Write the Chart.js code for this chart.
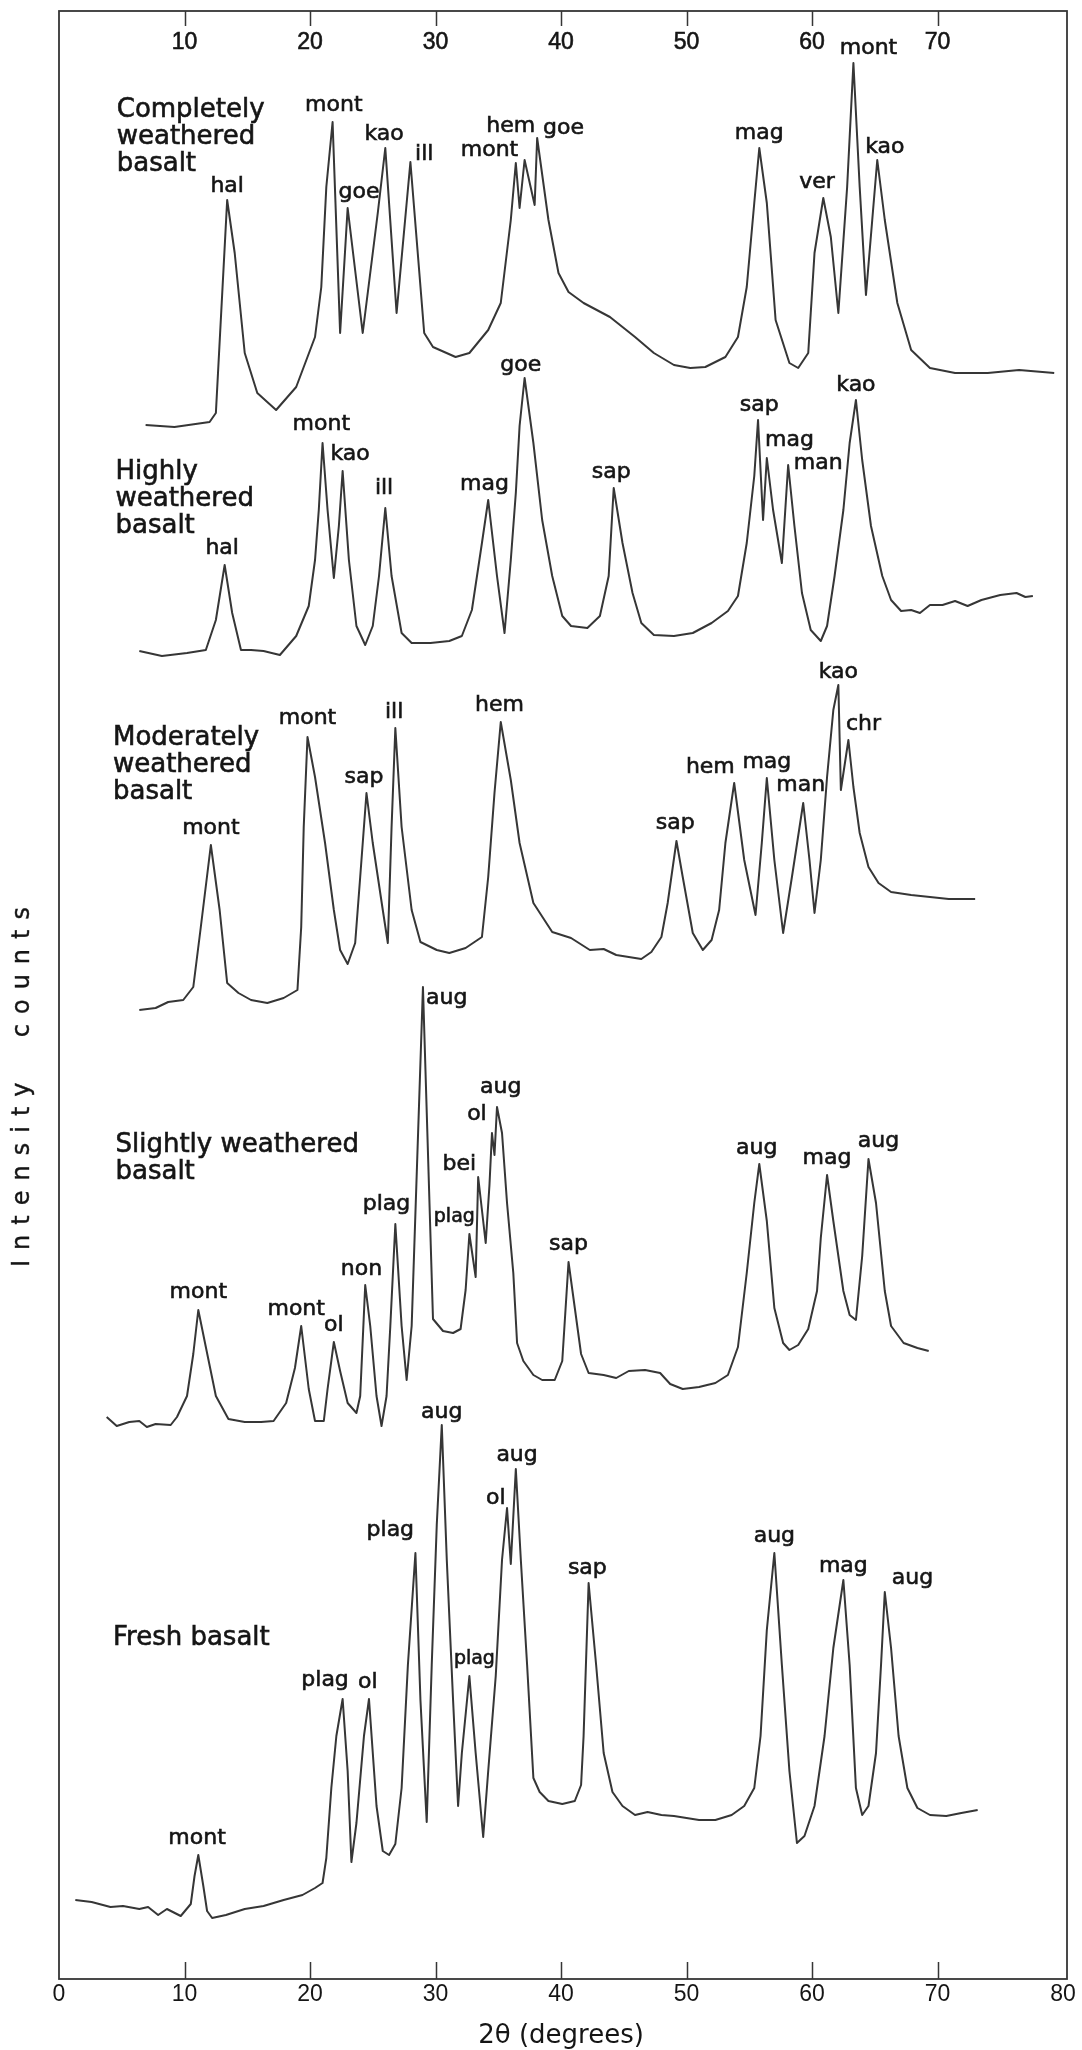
<!DOCTYPE html>
<html>
<head>
<meta charset="utf-8">
<title>XRD patterns of weathered basalt</title>
<script src="https://cdn.jsdelivr.net/npm/chart.js@4.4.1/dist/chart.umd.min.js"></script>
<style>
    html, body { margin: 0; padding: 0; background: #ffffff; }
    #wrap { width: 1082px; height: 2050px; }
</style>
</head>
<body>
<div id="wrap"><canvas id="xrdChart" width="1082" height="2050"></canvas></div>
<script>
// 2θ positions (degrees) and intensities above each trace's own baseline
const completelyTheta = [6.9, 9.2, 12.0, 12.5, 13.4, 14.0, 14.8, 15.8, 17.3, 18.9, 20.4, 20.9, 21.3, 21.8, 22.4, 23.0, 24.2, 25.4, 26.0, 26.9, 28.0, 29.1, 29.8, 31.6, 32.7, 34.2, 35.2, 36.0, 36.4, 36.7, 37.1, 37.9, 38.1, 39.0, 39.8, 40.6, 41.8, 43.9, 45.9, 47.4, 49.0, 50.3, 51.5, 53.1, 54.1, 54.8, 55.4, 55.8, 56.4, 57.1, 58.2, 58.9, 59.7, 60.2, 60.9, 61.5, 62.1, 62.8, 63.3, 63.8, 64.3, 64.8, 65.2, 65.8, 66.8, 67.9, 69.4, 71.4, 74.0, 76.5, 79.3];
const completelyCounts = [5, 3, 8, 17, 230, 177, 77, 37, 20, 43, 93, 143, 243, 308, 97, 222, 97, 217, 282, 117, 268, 97, 83, 73, 77, 100, 127, 210, 267, 222, 270, 225, 292, 210, 157, 138, 127, 113, 93, 77, 65, 62, 63, 73, 93, 143, 227, 282, 227, 110, 67, 62, 77, 177, 232, 193, 117, 243, 367, 243, 135, 210, 270, 210, 127, 80, 62, 57, 57, 60, 57];

const highlyTheta = [6.4, 8.2, 10.2, 11.7, 12.5, 13.2, 13.8, 14.5, 15.3, 16.3, 17.6, 18.9, 19.9, 20.4, 20.7, 21.0, 21.4, 21.9, 22.3, 22.6, 23.1, 23.7, 24.4, 25.0, 25.5, 26.0, 26.5, 27.3, 28.1, 29.6, 31.1, 32.1, 32.9, 33.7, 34.2, 34.9, 35.5, 36.0, 36.4, 36.7, 37.1, 37.8, 38.5, 39.3, 40.1, 40.8, 42.1, 43.1, 43.8, 44.2, 44.9, 45.7, 46.4, 47.4, 49.0, 50.5, 52.0, 53.3, 54.1, 54.8, 55.4, 55.7, 56.1, 56.4, 56.9, 57.6, 58.1, 58.6, 59.2, 59.9, 60.7, 61.2, 61.8, 62.5, 63.0, 63.5, 64.0, 64.7, 65.6, 66.3, 67.1, 67.9, 68.6, 69.4, 70.4, 71.4, 72.4, 73.5, 75.0, 76.3, 77.0, 77.6];
const highlyCounts = [2, -3, 0, 3, 33, 88, 40, 3, 3, 2, -2, 17, 47, 93, 143, 210, 143, 75, 127, 182, 93, 27, 8, 27, 77, 145, 77, 20, 10, 10, 12, 17, 43, 110, 153, 77, 20, 93, 160, 227, 275, 210, 133, 77, 37, 27, 25, 37, 77, 165, 110, 60, 30, 18, 17, 20, 30, 42, 57, 110, 177, 233, 133, 195, 143, 90, 188, 127, 60, 23, 12, 27, 77, 143, 210, 253, 193, 127, 77, 53, 42, 43, 40, 48, 48, 52, 47, 53, 58, 60, 56, 57];

const moderatelyTheta = [6.4, 7.7, 8.7, 9.9, 10.7, 11.3, 12.1, 12.8, 13.4, 14.3, 15.3, 16.6, 17.9, 19.0, 19.3, 19.5, 19.8, 20.4, 21.2, 21.9, 22.4, 23.0, 23.6, 24.0, 24.5, 25.0, 25.8, 26.2, 26.5, 26.8, 27.3, 28.1, 28.8, 30.1, 31.1, 32.4, 33.7, 34.2, 34.7, 35.2, 36.0, 36.7, 37.8, 39.3, 40.8, 42.3, 43.4, 44.4, 45.4, 46.4, 47.2, 48.0, 48.5, 49.2, 49.7, 50.5, 51.3, 52.0, 52.6, 53.1, 53.8, 54.6, 55.5, 56.0, 56.4, 57.0, 57.7, 58.4, 59.3, 59.8, 60.2, 60.7, 61.2, 61.7, 62.1, 62.3, 62.9, 63.3, 63.8, 64.5, 65.3, 66.3, 67.9, 69.4, 70.9, 73.0];
const moderatelyCounts = [0, 2, 8, 10, 23, 83, 165, 100, 27, 17, 10, 7, 12, 20, 83, 183, 273, 233, 167, 100, 60, 46, 67, 133, 217, 167, 100, 67, 183, 282, 183, 100, 68, 60, 57, 62, 73, 133, 217, 288, 230, 167, 107, 78, 72, 60, 61, 55, 53, 51, 58, 73, 107, 169, 133, 77, 60, 70, 100, 167, 227, 150, 95, 167, 232, 150, 77, 133, 207, 150, 97, 150, 233, 300, 325, 220, 270, 223, 177, 143, 127, 118, 115, 113, 111, 111];

const slightlyTheta = [3.8, 4.6, 5.6, 6.4, 7.0, 7.7, 8.9, 9.4, 10.2, 10.7, 11.1, 11.7, 12.5, 13.5, 14.8, 16.1, 17.1, 18.1, 18.8, 19.3, 19.9, 20.4, 21.1, 21.4, 21.9, 22.4, 23.0, 23.7, 24.0, 24.4, 24.8, 25.3, 25.7, 26.1, 26.4, 26.8, 27.3, 27.7, 28.1, 29.0, 29.8, 30.6, 31.4, 32.0, 32.4, 32.7, 33.2, 33.4, 33.8, 34.0, 34.3, 34.5, 34.7, 34.9, 35.3, 35.7, 36.2, 36.5, 37.0, 37.8, 38.5, 39.5, 40.1, 40.6, 41.1, 41.6, 42.2, 43.4, 44.4, 45.4, 46.7, 47.9, 48.7, 49.7, 51.0, 52.3, 53.3, 54.1, 54.8, 55.4, 55.8, 56.4, 57.0, 57.7, 58.2, 58.9, 59.7, 60.4, 60.7, 61.2, 61.7, 62.5, 63.0, 63.5, 64.0, 64.5, 65.1, 65.8, 66.3, 67.3, 68.4, 69.3];
const slightlyCounts = [7, -2, 2, 3, -3, 0, -1, 7, 28, 70, 114, 77, 28, 5, 2, 2, 3, 21, 56, 98, 35, 3, 3, 35, 82, 53, 21, 11, 28, 139, 98, 28, -2, 28, 98, 200, 98, 44, 98, 437, 105, 93, 91, 95, 134, 190, 147, 247, 203, 181, 239, 291, 269, 317, 291, 221, 151, 81, 63, 49, 44, 44, 63, 162, 116, 70, 51, 49, 46, 53, 54, 51, 40, 35, 37, 41, 49, 77, 151, 221, 260, 203, 116, 81, 74, 79, 95, 133, 186, 249, 203, 133, 109, 104, 168, 265, 221, 133, 98, 81, 76, 73];

const freshTheta = [1.3, 2.6, 4.1, 5.1, 6.4, 7.1, 7.9, 8.6, 9.7, 10.5, 10.8, 11.1, 11.5, 11.8, 12.2, 13.3, 14.8, 16.3, 17.9, 19.4, 20.4, 21.0, 21.3, 21.7, 22.1, 22.6, 23.0, 23.3, 23.7, 24.3, 24.7, 25.3, 25.8, 26.3, 26.8, 27.3, 27.8, 28.4, 28.8, 29.3, 29.7, 30.1, 30.5, 30.9, 31.4, 31.8, 32.1, 32.7, 33.2, 33.8, 34.2, 34.8, 35.3, 35.7, 36.0, 36.4, 36.8, 37.3, 37.8, 38.3, 39.0, 40.1, 41.1, 41.6, 41.8, 42.2, 42.8, 43.4, 44.1, 44.9, 45.9, 46.9, 48.0, 49.0, 50.0, 51.0, 52.3, 53.6, 54.6, 55.4, 55.9, 56.4, 57.0, 57.6, 58.2, 58.8, 59.4, 60.2, 61.0, 61.7, 62.5, 63.0, 63.5, 64.0, 64.5, 65.1, 65.5, 65.8, 66.3, 66.9, 67.6, 68.4, 69.4, 70.7, 71.9, 73.2];
const freshCounts = [11, 9, 4, 5, 2, 4, -4, 2, -5, 7, 35, 56, 25, 0, -7, -4, 2, 5, 11, 16, 23, 28, 53, 123, 175, 212, 140, 49, 88, 175, 212, 105, 60, 56, 67, 123, 246, 358, 211, 89, 246, 386, 486, 351, 211, 105, 158, 235, 158, 74, 140, 235, 351, 403, 347, 442, 351, 246, 133, 119, 110, 107, 110, 126, 175, 328, 246, 158, 119, 105, 96, 99, 96, 95, 93, 91, 91, 96, 105, 123, 175, 281, 358, 246, 140, 68, 75, 105, 175, 263, 331, 246, 123, 96, 105, 158, 246, 319, 263, 175, 123, 103, 96, 95, 98, 101];

// vertical shift of each pattern (top to bottom)
const traceOffsets = [1549, 1326, 969, 555, 68];
const xTicks = [0, 10, 20, 30, 40, 50, 60, 70, 80];
const topTicks = [10, 20, 30, 40, 50, 60, 70];

// [trace, 2θ, intensity, text, small]
const peakLabels = [
    [0, 13.4, 244, 'hal'], [0, 21.9, 325, 'mont'], [0, 23.9, 238, 'goe'], [0, 25.9, 296, 'kao'],
    [0, 29.1, 276, 'ill'], [0, 34.3, 280, 'mont'], [0, 36.0, 304, 'hem'], [0, 40.2, 302, 'goe'],
    [0, 55.8, 297, 'mag'], [0, 60.4, 248, 'ver'], [0, 64.5, 382, 'mont'], [0, 65.8, 283, 'kao'],
    [1, 13.0, 105, 'hal'], [1, 20.9, 229, 'mont'], [1, 23.2, 199, 'kao'], [1, 25.9, 165, 'ill'],
    [1, 33.9, 169, 'mag'], [1, 36.8, 288, 'goe'], [1, 44.0, 181, 'sap'], [1, 55.8, 248, 'sap'],
    [1, 58.2, 213, 'mag'], [1, 60.5, 190, 'man'], [1, 63.5, 268, 'kao'],
    [2, 12.1, 182, 'mont'], [2, 19.8, 292, 'mont'], [2, 24.3, 233, 'sap'], [2, 26.7, 298, 'ill'],
    [2, 35.1, 305, 'hem'], [2, 49.1, 187, 'sap'], [2, 51.9, 243, 'hem'], [2, 56.4, 248, 'mag'],
    [2, 59.1, 225, 'man'], [2, 62.1, 338, 'kao'], [2, 64.1, 286, 'chr'],
    [3, 11.1, 132, 'mont'], [3, 18.9, 115, 'mont'], [3, 21.9, 99, 'ol'], [3, 24.1, 155, 'non'],
    [3, 26.1, 220, 'plag'], [3, 31.5, 207, 'plag', true], [3, 31.9, 260, 'bei'], [3, 33.3, 310, 'ol'],
    [3, 35.2, 337, 'aug'], [3, 30.9, 426, 'aug'], [3, 40.6, 180, 'sap'], [3, 55.6, 276, 'aug'],
    [3, 61.2, 266, 'mag'], [3, 65.3, 283, 'aug'],
    [4, 11.0, 73, 'mont'], [4, 21.2, 231, 'plag'], [4, 24.6, 229, 'ol'], [4, 26.4, 381, 'plag'],
    [4, 30.5, 499, 'aug'], [4, 33.1, 252, 'plag', true], [4, 34.8, 413, 'ol'], [4, 36.5, 456, 'aug'],
    [4, 42.1, 343, 'sap'], [4, 57.0, 375, 'aug'], [4, 62.5, 345, 'mag'], [4, 68.0, 333, 'aug']
];

// [trace, 2θ of left edge, intensity of first line, lines]
const sampleNames = [
    [0, 4.6, 320, ['Completely', 'weathered', 'basalt']],
    [1, 4.5, 181, ['Highly', 'weathered', 'basalt']],
    [2, 4.3, 272, ['Moderately', 'weathered', 'basalt']],
    [3, 4.5, 279, ['Slightly weathered', 'basalt']],
    [4, 4.3, 273, ['Fresh basalt']]
];

const traces = [
    { label: 'Completely weathered basalt', theta: completelyTheta, counts: completelyCounts },
    { label: 'Highly weathered basalt', theta: highlyTheta, counts: highlyCounts },
    { label: 'Moderately weathered basalt', theta: moderatelyTheta, counts: moderatelyCounts },
    { label: 'Slightly weathered basalt', theta: slightlyTheta, counts: slightlyCounts },
    { label: 'Fresh basalt', theta: freshTheta, counts: freshCounts }
];

const inkColor = '#363636';
const textColor = '#151515';

// draw text a little heavier, like the printed labels
function heavyText(ctx, text, x, y) {
    ctx.strokeText(text, x, y);
    ctx.fillText(text, x, y);
}

// frame, inward ticks, top scale, peak names and y title
const xrdDecor = {
    id: 'xrdDecor',
    afterDraw(chart) {
        const { ctx, chartArea: ca, scales } = chart;
        const xs = scales.x, ys = scales.y;
        ctx.save();

        ctx.strokeStyle = inkColor;
        ctx.lineWidth = 1.8;
        ctx.strokeRect(ca.left, ca.top, ca.right - ca.left + 4, ca.bottom - ca.top);

        ctx.lineWidth = 1.5;
        ctx.beginPath();
        topTicks.forEach(v => {
            const px = Math.round(xs.getPixelForValue(v)) + 0.5;
            ctx.moveTo(px, ca.bottom);
            ctx.lineTo(px, ca.bottom - 17);
            ctx.moveTo(px, ca.top);
            ctx.lineTo(px, ca.top + 15);
        });
        ctx.stroke();

        ctx.fillStyle = textColor;
        ctx.strokeStyle = textColor;
        ctx.lineWidth = 0.6;
        ctx.textAlign = 'center';
        ctx.textBaseline = 'middle';
        ctx.font = '23px "Liberation Sans"';
        topTicks.forEach(v => heavyText(ctx, String(v), xs.getPixelForValue(v), ca.top + 32));

        peakLabels.forEach(([t, theta, h, text, small]) => {
            ctx.font = (small ? 19 : 22) + 'px "DejaVu Sans"';
            heavyText(ctx, text, xs.getPixelForValue(theta), ys.getPixelForValue(h + traceOffsets[t]));
        });

        ctx.textAlign = 'left';
        ctx.font = '26px "DejaVu Sans"';
        sampleNames.forEach(([t, theta, h, lines]) => {
            const px = xs.getPixelForValue(theta);
            const py = ys.getPixelForValue(h + traceOffsets[t]);
            lines.forEach((ln, i) => heavyText(ctx, ln, px, py + i * 27));
        });

        // letter-spaced vertical title
        const title = 'Intensity  counts';
        ctx.font = '24px "DejaVu Sans"';
        ctx.lineWidth = 0.4;
        const gap = 10;
        let total = 0;
        for (const ch of title) total += ctx.measureText(ch).width + gap;
        total -= gap;
        ctx.translate(23, ys.getPixelForValue(892));
        ctx.rotate(-Math.PI / 2);
        let cx = -total / 2;
        for (const ch of title) {
            heavyText(ctx, ch, cx, 0);
            cx += ctx.measureText(ch).width + gap;
        }
        ctx.restore();
    }
};

document.addEventListener('DOMContentLoaded', function() {
    if (typeof Chart === 'undefined') {
        console.error('Chart.js not loaded!');
        return;
    }

    const datasets = traces.map((tr, i) => ({
        label: tr.label,
        data: tr.theta.map((v, j) => ({ x: v, y: tr.counts[j] + traceOffsets[i] })),
        borderColor: inkColor,
        borderWidth: 2,
        borderJoinStyle: 'round',
        pointRadius: 0,
        tension: 0,
        fill: false
    }));

    new Chart(document.getElementById('xrdChart'), {
        type: 'line',
        data: { datasets },
        options: {
            responsive: false,
            animation: false,
            devicePixelRatio: 1,
            layout: { padding: { top: 11, right: 19, left: 0, bottom: 0 } },
            plugins: {
                legend: { display: false },
                tooltip: { enabled: false }
            },
            scales: {
                x: {
                    type: 'linear',
                    min: 0,
                    max: 80,
                    afterBuildTicks: s => { s.ticks = xTicks.map(v => ({ value: v })); },
                    ticks: {
                        color: textColor,
                        autoSkip: false,
                        maxRotation: 0,
                        padding: 2,
                        font: { family: 'Liberation Sans', size: 23 }
                    },
                    grid: { display: false, drawTicks: false },
                    border: { display: false },
                    title: {
                        display: true,
                        text: '2θ (degrees)',
                        color: textColor,
                        font: { family: 'DejaVu Sans', size: 26, lineHeight: 1 },
                        padding: { top: 0, bottom: 1 }
                    },
                    afterFit: s => { s.height = 71; }
                },
                y: {
                    type: 'linear',
                    min: 0,
                    max: 1968,
                    ticks: { display: false },
                    grid: { display: false, drawTicks: false },
                    border: { display: false },
                    afterFit: s => { s.width = 59; }
                }
            }
        },
        plugins: [xrdDecor]
    });
});
</script>
</body>
</html>
